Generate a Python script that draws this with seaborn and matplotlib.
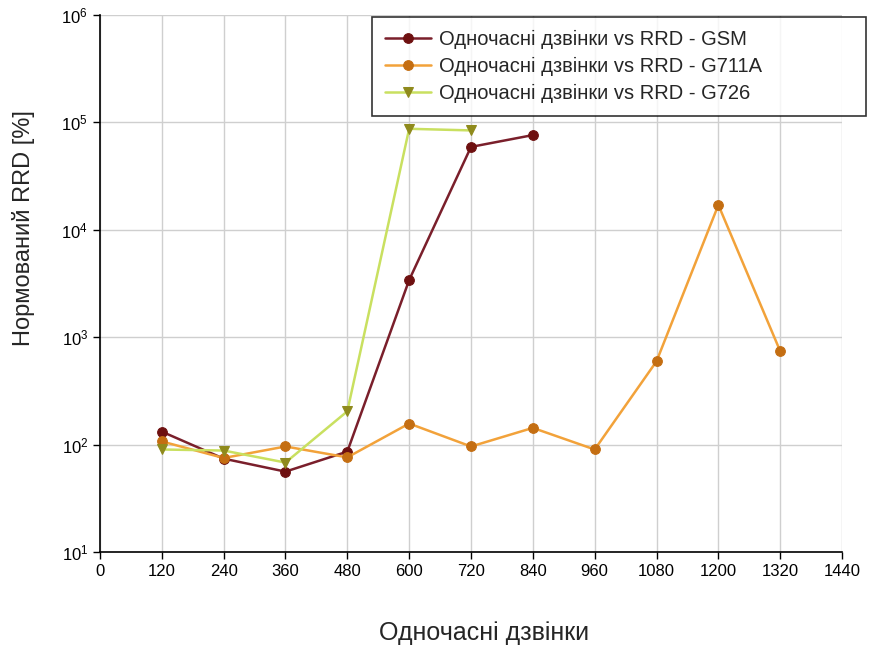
import numpy as np
import pandas as pd
import matplotlib
matplotlib.use("Agg")
import matplotlib.pyplot as plt
from matplotlib.ticker import LogLocator, LogFormatterMathtext, NullLocator
import seaborn as sns

# data
calls_gsm = [120, 240, 360, 480, 600, 720, 840]
rrd_gsm = [132, 74, 56, 86, 3400, 59000, 76000]

calls_g711a = [120, 240, 360, 480, 600, 720, 840, 960, 1080, 1200, 1320]
rrd_g711a = [107, 75, 96, 76, 157, 96, 143, 90, 596, 17000, 740]

calls_g726 = [120, 240, 360, 480, 600, 720]
rrd_g726 = [90, 88, 68, 204, 87000, 84000]

labels = [
    "Одночасні дзвінки vs RRD - GSM",
    "Одночасні дзвінки vs RRD - G711A",
    "Одночасні дзвінки vs RRD - G726",
]

sns.set_style("white")
plt.rcParams["font.family"] = ["Liberation Sans", "DejaVu Sans"]
plt.rcParams["mathtext.fontset"] = "custom"
plt.rcParams["mathtext.rm"] = "Liberation Sans"

fig = plt.figure(figsize=(8.69, 6.46), dpi=100)
ax = fig.add_axes([0.115, 0.1455, 0.854, 0.8315])

series = [
    (calls_gsm, rrd_gsm, labels[0], "#7a1f2b", "#6e1010", "o", 7),
    (calls_g711a, rrd_g711a, labels[1], "#f2a23a", "#c46e12", "o", 7),
    (calls_g726, rrd_g726, labels[2], "#c9e060", "#8f8a1c", "v", 7),
]
for x, y, lab, lc, mc, mk, ms in series:
    df = pd.DataFrame({"x": x, "y": y})
    sns.lineplot(data=df, x="x", y="y", ax=ax, color=lc, linewidth=1.8,
                 marker=mk, markersize=ms, markerfacecolor=mc,
                 markeredgecolor=mc, label=lab)

ax.set_yscale("log")
ax.set_ylim(10, 1e6)
ax.set_xlim(0, 1440)
ax.set_xticks(np.arange(0, 1441, 120))
ax.yaxis.set_major_locator(LogLocator(base=10, numticks=10))
ax.yaxis.set_major_formatter(LogFormatterMathtext())
ax.yaxis.set_minor_locator(NullLocator())

ax.grid(True, color="#cfcfcf", linewidth=1)
ax.set_axisbelow(True)
for s in ["top", "right"]:
    ax.spines[s].set_visible(False)
for s in ["left", "bottom"]:
    ax.spines[s].set_color("black")
    ax.spines[s].set_linewidth(1.2)
ax.tick_params(axis="both", direction="out", length=5, width=1, labelsize=12,
               colors="black", left=True, bottom=True)

ax.set_xlabel("Одночасні дзвінки", fontsize=18)
ax.set_ylabel("Нормований RRD [%]", fontsize=17)
ax.xaxis.set_label_coords(0.517, -0.128)
ax.yaxis.set_label_coords(-0.088, 0.603)

leg = ax.legend(loc="upper left",
                bbox_to_anchor=(372 / 869, 1 - 112 / 646, 494 / 869, 95 / 646),
                bbox_transform=fig.transFigure, mode="expand",
                frameon=True, fancybox=False,
                fontsize=14.5, handlelength=2.3, handletextpad=0.4,
                borderpad=0.65, labelspacing=0.4, borderaxespad=0)
leg.get_frame().set_edgecolor("black")
leg.get_frame().set_linewidth(1.2)

fig.savefig("out.png", dpi=100)
